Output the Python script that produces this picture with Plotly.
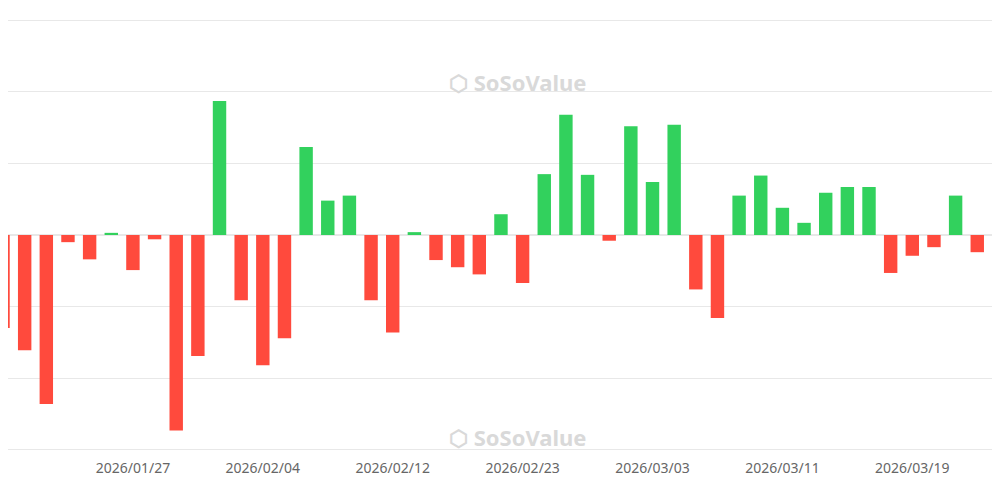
import plotly.graph_objects as go

dates = ["2026/01/16","2026/01/20","2026/01/21","2026/01/22","2026/01/23","2026/01/26","2026/01/27",
"2026/01/28","2026/01/29","2026/01/30","2026/02/02","2026/02/03","2026/02/04","2026/02/05","2026/02/06",
"2026/02/09","2026/02/10","2026/02/11","2026/02/12","2026/02/13","2026/02/17","2026/02/18","2026/02/19",
"2026/02/20","2026/02/23","2026/02/24","2026/02/25","2026/02/26","2026/02/27","2026/03/02","2026/03/03",
"2026/03/04","2026/03/05","2026/03/06","2026/03/09","2026/03/10","2026/03/11","2026/03/12","2026/03/13",
"2026/03/16","2026/03/17","2026/03/18","2026/03/19","2026/03/20","2026/03/23","2026/03/24","2026/03/25"]
values = [-130,-161,-236,-10,-34,3,-49,-6,-273,-169,187,-91,-182,-144,123,48,55,-91,-136,4,-35,-45,-55,29,-67,
85,168,84,-8,152,74,154,-76,-116,55,83,38,17,59,67,67,-53,-29,-17,55,-24,3]
tick_labels = ["2026/01/16","2026/01/27","2026/02/04","2026/02/12","2026/02/23","2026/03/03","2026/03/11","2026/03/19"]

idx = list(range(len(dates)))
tick_idx = [dates.index(t) for t in tick_labels]
colors = ["#32d15d" if v >= 0 else "#ff4a3d" for v in values]
fig = go.Figure(go.Bar(x=idx, y=values, marker_color=colors, marker_line_width=0,
                       customdata=dates, hovertemplate="%{customdata}: %{y}<extra></extra>"))
fig.update_layout(
    width=1000, height=486, margin=dict(l=0, r=0, t=10, b=42),
    plot_bgcolor="white", paper_bgcolor="white", bargap=0.38, showlegend=False,
    font=dict(family="Noto Sans", size=14, color="#666"),
)
fig.update_xaxes(range=[0.23, 46.42], tickvals=tick_idx, ticktext=tick_labels, automargin=False,
                 showgrid=False, ticks="", showline=False, zeroline=False, ticklabelstandoff=6)
fig.update_yaxes(range=[-303, 303], tickvals=[-300,-200,-100,0,100,200,300], showticklabels=False,
                 automargin=False, gridcolor="#e8e8e8", gridwidth=1, zeroline=True, zerolinecolor="#e8e8e8")
for y in [0.853, 0.035]:
    fig.add_annotation(xref="paper", yref="paper", x=0.51, y=y, yanchor="middle", showarrow=False,
                       text="<b>⬡ SoSoValue</b>", font=dict(size=22, color="#d9d9d9"))
fig.write_html("out.html")
